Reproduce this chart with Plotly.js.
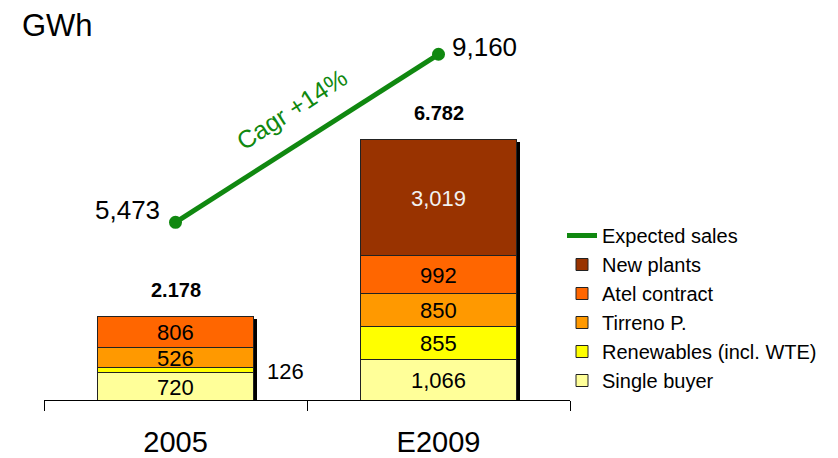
<!DOCTYPE html>
<html>
<head>
<meta charset="utf-8">
<script src="https://cdn.plot.ly/plotly-3.0.1.min.js"></script>
<style>
html,body{margin:0;padding:0;background:#fff;}
#chart{width:838px;height:458px;}
</style>
</head>
<body>
<div id="chart"></div>
<script>
// ---- data ----
const categories = ['2005', 'E2009'];
const seriesNames = ['Single buyer', 'Renewables (incl. WTE)', 'Tirreno P.', 'Atel contract', 'New plants'];
const singleBuyer = [720, 1066];
const renewables = [126, 855];
const tirreno = [526, 850];
const atel = [806, 992];
const newPlants = [null, 3019];
const expectedSales = [5473, 9160];
const lineName = 'Expected sales';
const cagrLabel = 'Cagr +14%';
const unitLabel = 'GWh';

// ---- styles ----
const FONT = 'Liberation Sans, Arial, Helvetica, sans-serif';
const GREEN = '#108810';
const colors = ['#FFFF99', '#FFFF00', '#FF9900', '#FF6600', '#993300'];
const textColors = ['#000', '#000', '#000', '#000', '#f2f2f2'];
const BAR_W = 0.59;
const seriesValues = [singleBuyer, renewables, tirreno, atel, newPlants];

const totals = categories.map((c, i) => seriesValues.reduce((s, arr) => s + (arr[i] || 0), 0));
const fmt = v => v.toLocaleString('en-US');
const fmtTotal = v => fmt(v).replace(/,/g, '.');

const L = 44, R = 268, T = 20, B = 58, W = 838, H = 458;
const pw = W - L - R, ph = H - T - B;

const traces = [];
// drop shadow behind bars
traces.push({
  type: 'bar', x: categories, y: totals, base: totals.map(() => -60),
  width: BAR_W, offset: -BAR_W / 2 + 0.0152,
  marker: {color: '#000', line: {width: 0}},
  showlegend: false, hoverinfo: 'skip'
});
seriesValues.forEach((vals, k) => {
  traces.push({
    type: 'bar', name: seriesNames[k], x: categories, y: vals,
    width: BAR_W, offset: -BAR_W / 2,
    marker: {color: colors[k], line: {color: '#222', width: 1}},
    textposition: 'none', hoverinfo: 'x+y+name'
  });
});
// markers (no legend entry)
traces.push({
  type: 'scatter', mode: 'markers', showlegend: false,
  x: categories, y: expectedSales, yaxis: 'y2',
  marker: {color: GREEN, size: 13}
});
// line (legend shows only the line)
traces.push({
  type: 'scatter', mode: 'lines', name: lineName,
  x: categories, y: expectedSales, yaxis: 'y2',
  line: {color: GREEN, width: 5}
});

const annotations = [];
// segment labels
categories.forEach((c, i) => {
  let cum = 0;
  seriesValues.forEach((vals, k) => {
    const v = vals[i];
    if (v == null) return;
    const mid = cum + v / 2;
    cum += v;
    if (v >= 300) {
      annotations.push({x: i, y: mid, xref: 'x', yref: 'y', text: fmt(v), showarrow: false,
        font: {family: FONT, size: 22, color: textColors[k]}, yshift: -1});
    } else {
      annotations.push({x: i + BAR_W / 2, y: mid, xref: 'x', yref: 'y', text: fmt(v), showarrow: false,
        xanchor: 'left', xshift: 12, yshift: -2,
        font: {family: FONT, size: 22, color: '#000'}});
    }
  });
  annotations.push({x: i, y: totals[i], xref: 'x', yref: 'y', text: '<b>' + fmtTotal(totals[i]) + '</b>',
    showarrow: false, yshift: 26, font: {family: FONT, size: 20, color: '#000'}});
});
// line labels
annotations.push({x: 0, y: expectedSales[0], xref: 'x', yref: 'y2', text: fmt(expectedSales[0]),
  showarrow: false, xanchor: 'right', xshift: -14, yshift: 12, font: {family: FONT, size: 26, color: '#000'}});
annotations.push({x: 1, y: expectedSales[1], xref: 'x', yref: 'y2', text: fmt(expectedSales[1]),
  showarrow: false, xanchor: 'left', xshift: 11, yshift: 7, font: {family: FONT, size: 26, color: '#000'}});
annotations.push({x: 0.5, y: (expectedSales[0] + expectedSales[1]) / 2, xref: 'x', yref: 'y2', text: cagrLabel,
  showarrow: false, textangle: -33, xshift: -15, yshift: 29, font: {family: FONT, size: 25, color: GREEN}});
// unit
annotations.push({x: (20 - L) / pw, xanchor: 'left', y: (H - B - 25) / ph, yanchor: 'middle',
  xref: 'paper', yref: 'paper', text: unitLabel, showarrow: false,
  font: {family: FONT, size: 31, color: '#000'}});

const layout = {
  width: W, height: H,
  margin: {l: L, r: R, t: T, b: B, pad: 0, autoexpand: false},
  paper_bgcolor: '#fff', plot_bgcolor: '#fff',
  barmode: 'stack',
  showlegend: true,
  font: {family: FONT, color: '#000'},
  xaxis: {
    type: 'category', range: [-0.5, 1.5], tickson: 'boundaries', ticks: 'outside', ticklen: 10,
    tickcolor: '#000', tickwidth: 1, showline: true, linecolor: '#000', linewidth: 1,
    ticklabelstandoff: 16, automargin: false,
    showgrid: false, zeroline: false, tickfont: {family: FONT, size: 29, color: '#000'}, fixedrange: true
  },
  yaxis: {range: [0, ph / 0.03844], visible: false, showgrid: false, zeroline: false, fixedrange: true},
  yaxis2: {range: [1573, 9912], overlaying: 'y', visible: false, showgrid: false, zeroline: false, fixedrange: true},
  legend: {
    x: (562 - L) / pw, xanchor: 'left', y: (H - B - 216) / ph, yanchor: 'top',
    traceorder: 'reversed', font: {family: FONT, size: 20, color: '#000'},
    bgcolor: 'rgba(0,0,0,0)', borderwidth: 0, itemwidth: 30
  },
  annotations: annotations
};

Plotly.newPlot('chart', traces, layout, {displayModeBar: false, staticPlot: true});
</script>
</body>
</html>
